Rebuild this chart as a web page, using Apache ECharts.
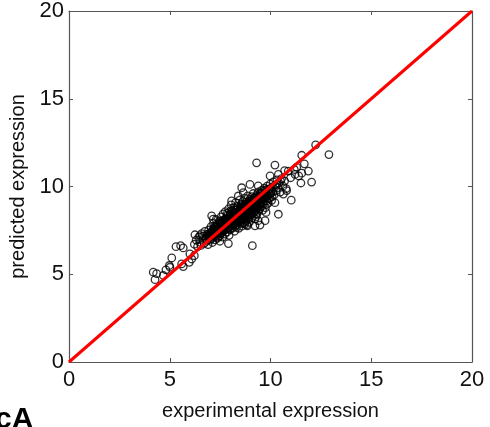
<!DOCTYPE html>
<html>
<head>
<meta charset="utf-8">
<script src="https://cdn.jsdelivr.net/npm/echarts@6/dist/echarts.min.js"></script>
<style>
html,body{margin:0;padding:0;background:#fff;}
#chart{width:490px;height:427px;}
</style>
</head>
<body>
<div id="chart"></div>
<script>
// Axis ticks
var xTicks = [0, 5, 10, 15, 20];
var yTicks = [0, 5, 10, 15, 20];
// Identity (y = x) reference line endpoints
var identityLine = [[0, 0], [20, 20]];

// Dense core of the scatter (experimental, predicted)
var corePoints = [
  [6.22,6.71],[6.31,6.95],[6.38,6.58],[6.44,7.12],[6.49,6.83],[6.55,6.64],[6.58,7.31],[6.63,6.97],[6.67,7.18],[6.71,6.76],
  [6.74,7.44],[6.79,7.05],[6.83,6.88],[6.86,7.27],[6.9,6.69],[6.93,7.52],[6.96,7.13],[6.99,6.94],
  [7.02,7.36],[7.05,7.71],[7.07,7.02],[7.1,7.24],[7.12,6.81],[7.15,7.55],[7.17,7.9],[7.2,7.13],[7.22,7.38],[7.25,6.96],
  [7.27,7.67],[7.3,8.12],[7.32,7.27],[7.34,7.49],[7.37,7.06],[7.39,7.82],[7.41,7.61],[7.44,7.33],[7.46,8.02],[7.48,7.18],[7.49,6.88],
  [7.51,7.52],[7.53,7.77],[7.55,8.27],[7.57,7.36],[7.59,7.95],[7.61,7.63],[7.63,7.12],[7.65,8.44],[7.67,7.84],[7.69,7.48],
  [7.71,8.09],[7.72,7.71],[7.74,7.29],[7.76,8.57],[7.78,7.93],[7.8,7.59],[7.82,8.21],[7.83,7.82],[7.85,7.41],[7.87,8.35],
  [7.88,8.03],[7.9,7.67],[7.92,8.72],[7.93,7.9],[7.95,7.22],[7.97,8.16],[7.98,7.78],
  [8.0,8.42],[8.02,8.01],[8.03,7.56],[8.05,8.95],[8.07,8.24],[8.08,7.87],[8.1,8.61],[8.12,8.1],[8.13,7.66],[8.15,8.38],
  [8.17,7.97],[8.18,8.79],[8.2,8.2],[8.22,7.45],[8.23,8.51],[8.25,8.05],[8.27,9.08],[8.28,8.31],[8.3,7.8],[8.32,8.68],
  [8.33,8.14],[8.35,8.44],[8.37,7.92],[8.38,8.88],[8.4,8.27],[8.42,7.62],[8.43,8.56],[8.45,8.12],[8.47,9.23],[8.48,8.37],[8.5,7.98],
  [8.52,8.71],[8.53,8.22],[8.55,8.99],[8.57,8.47],[8.58,7.74],[8.6,8.62],[8.62,8.09],[8.63,9.15],[8.65,8.36],[8.67,8.81],
  [8.68,7.93],[8.7,8.55],[8.72,9.34],[8.73,8.24],[8.75,8.73],[8.77,8.02],[8.78,9.02],[8.8,8.46],[8.82,7.81],[8.83,8.89],
  [8.85,8.31],[8.87,9.47],[8.88,8.64],[8.9,8.12],[8.92,9.11],[8.93,8.5],[8.95,7.96],[8.97,8.83],[8.98,9.28],
  [9.0,8.38],[9.02,8.97],[9.04,8.65],[9.06,9.42],[9.08,8.21],[9.1,9.07],[9.12,8.76],[9.14,9.6],[9.16,8.49],[9.18,9.21],
  [9.2,8.88],[9.22,8.15],[9.24,9.35],[9.26,8.62],[9.28,9.02],[9.3,8.41],[9.32,9.54],[9.34,8.81],[9.36,9.18],[9.38,8.58],
  [9.4,9.69],[9.42,8.97],[9.44,9.31],[9.46,8.72],[9.48,9.1],
  [9.5,9.47],[9.53,8.86],[9.56,9.78],[9.58,9.23],[9.61,8.64],[9.64,9.58],[9.66,9.02],[9.69,9.91],[9.72,9.36],[9.75,8.79],
  [9.78,9.7],[9.8,9.18],[9.83,10.02],[9.86,9.47],[9.89,9.05],[9.92,9.84],[9.95,9.32],[9.98,10.13],
  [10.02,9.62],[10.06,9.21],[10.1,9.97],[10.14,10.26],[10.18,9.52],[10.22,10.08],[10.27,9.76],[10.32,10.38],[10.37,9.94],
  [10.42,10.19],[10.48,9.68],[10.55,10.45],[10.62,10.02],[10.7,10.31],[10.78,9.88],
  [7.58,8.06],[7.62,7.45],[7.7,7.96],[7.75,8.15],[7.81,7.74],[7.86,8.48],[7.91,8.11],[7.96,7.54],[8.01,8.3],[8.04,8.62],
  [8.09,7.99],[8.14,8.48],[8.19,8.08],[8.21,8.66],[8.26,7.73],[8.29,8.4],[8.34,8.02],[8.36,8.8],[8.41,8.45],[8.44,8.02],
  [8.46,8.66],[8.51,8.35],[8.54,8.84],[8.56,7.9],[8.59,8.52],[8.64,8.98],[8.66,8.18],[8.69,8.67],[8.74,8.4],[8.76,9.1],
  [8.79,8.13],[8.81,8.62],[8.84,8.99],[8.86,8.4],[8.91,8.73],[8.94,9.18],[8.96,8.27],[9.01,8.57],[9.05,9.16],[9.09,8.45],
  [9.13,8.98],[9.17,8.66],[9.21,9.27],[9.25,8.85],[9.29,8.28],[9.33,9.11],[9.37,8.75],[9.41,9.4],[9.45,8.9],[9.49,9.6],
  [7.28,7.52],[7.35,7.88],[7.42,7.15],[7.47,7.66],[7.13,7.45],[7.06,7.2],[6.97,7.35],[6.81,7.1],[7.23,7.74],[7.54,7.32],
  // tightly packed centre of the band
  [6.88,7.16],[6.95,7.22],[7.01,7.18],[7.04,7.31],[7.09,7.27],[7.14,7.35],[7.18,7.29],[7.21,7.44],[7.26,7.41],[7.29,7.36],
  [7.33,7.58],[7.36,7.47],[7.4,7.52],[7.43,7.63],[7.45,7.44],[7.5,7.69],[7.52,7.6],[7.56,7.55],[7.6,7.74],[7.64,7.68],
  [7.66,7.79],[7.68,7.62],[7.73,7.86],[7.77,7.77],[7.79,7.88],[7.84,7.96],[7.86,7.85],[7.89,7.99],[7.94,8.04],[7.99,7.95],
  [8.03,8.12],[8.06,8.06],[8.11,8.2],[8.16,8.15],[8.19,8.27],[8.24,8.22],[8.27,8.35],[8.31,8.26],[8.34,8.33],[8.39,8.4],
  [8.42,8.32],[8.46,8.45],[8.49,8.52],[8.53,8.43],[8.56,8.58],[8.61,8.5],[8.64,8.61],[8.67,8.56],[8.71,8.7],[8.74,8.62],
  [8.78,8.78],[8.81,8.71],[8.84,8.84],[8.89,8.77],[8.93,8.91],[8.96,8.82],[9.0,8.95],[9.03,8.86],[9.07,9.0],[9.11,8.92],
  [9.15,9.08],[9.19,9.0],[9.23,9.12],[9.27,9.06],[9.31,9.2],[9.35,9.12],[9.39,9.26],[9.43,9.17],[9.47,9.32],[9.52,9.25],
  [9.57,9.38],[9.62,9.3],[9.67,9.45],[9.73,9.4],[9.79,9.55],[9.85,9.5],[9.91,9.62],[9.97,9.56],[10.04,9.74],[10.12,9.7],
  [7.08,7.1],[7.19,7.62],[7.31,7.7],[7.38,7.3],[7.52,7.92],[7.57,7.48],[7.68,8.02],[7.72,7.53],[7.84,8.12],[7.89,7.6],
  [7.99,8.2],[8.04,7.78],[8.12,8.32],[8.16,7.84],[8.26,8.48],[8.31,7.96],[8.4,8.6],[8.43,8.06],[8.52,8.78],[8.57,8.2],
  [8.63,8.86],[8.69,8.33],[8.77,8.95],[8.83,8.5],[8.9,9.04],[8.97,8.6],[9.06,9.22],[9.11,8.68],[9.19,9.36],[9.27,8.85],
  [9.34,9.45],[9.43,9.0],[9.55,9.6],[9.63,9.13],[9.74,9.78],[9.84,9.3],[9.96,9.88],[10.08,9.42]
];

// Sparser points around the core
var outerPoints = [
  [9.31,11.35],[10.22,11.22],[12.24,12.37],[12.9,11.82],[11.55,11.78],[11.68,11.29],[11.88,10.88],[11.55,10.76],
  [12.04,10.25],[11.51,10.2],[11.03,9.22],[10.8,9.77],[10.64,9.57],[10.31,10.12],[9.98,10.6],[10.39,10.69],
  [10.88,10.88],[11.18,10.97],[11.22,10.69],[11.0,10.5],[11.3,11.1],[11.4,10.6],[10.7,10.9],[10.5,10.3],
  [8.98,10.12],[8.65,9.65],[8.57,9.93],[8.4,9.46],[8.07,9.18],[9.39,10.03],[9.81,9.84],[9.56,9.46],[10.22,9.08],
  [9.31,8.42],[9.78,8.52],[9.81,8.99],[9.48,7.8],[8.85,7.76],[9.39,8.05],[9.73,8.05],[10.39,8.42],[9.23,7.76],[8.73,7.86],
  [9.1,6.63],[8.32,7.67],[7.91,6.75],[7.08,8.33],[7.16,8.14],[6.25,7.25],[6.5,7.2],
  [5.31,6.57],[5.54,6.63],[5.67,6.5],[5.1,5.93],[6.0,6.16],[6.09,5.87],[6.22,6.06],[5.97,5.68],[5.59,5.59],[5.67,5.44],
  [5.01,5.4],[4.98,5.5],[4.81,5.25],[4.18,5.12],[4.35,5.03],[4.27,4.69],[4.68,4.93]
];

var scatterData = corePoints.concat(outerPoints);

var FONT = '"Liberation Sans", Arial, Helvetica, sans-serif';
var AXIS_COLOR = '#555';

var chart = echarts.init(document.getElementById('chart'), null, {renderer: 'canvas'});

function mainAxis(extra) {
  return Object.assign({
    type: 'value',
    min: xTicks[0],
    max: xTicks[xTicks.length - 1],
    interval: xTicks[1] - xTicks[0],
    splitLine: {show: false},
    axisLine: {show: true, onZero: false, lineStyle: {color: AXIS_COLOR, width: 1.2}},
    axisTick: {show: true, inside: true, length: 4, lineStyle: {color: AXIS_COLOR, width: 1}},
    axisLabel: {show: true, fontSize: 22, color: '#111', fontFamily: FONT}
  }, extra);
}

chart.setOption({
  animation: false,
  backgroundColor: '#fff',
  grid: {left: 69, right: 18, top: 9, bottom: 65, containLabel: false},
  xAxis: [
    mainAxis({position: 'bottom',
      axisLabel: {show: true, fontSize: 22, color: '#111', fontFamily: FONT, margin: 7},
      name: 'experimental expression', nameLocation: 'middle', nameGap: 39,
      nameTextStyle: {fontSize: 20, color: '#111', fontFamily: FONT}}),
    mainAxis({position: 'top', axisLabel: {show: false}})
  ],
  yAxis: [
    mainAxis({position: 'left', min: yTicks[0], max: yTicks[yTicks.length - 1], interval: yTicks[1] - yTicks[0],
      axisLabel: {show: true, fontSize: 22, color: '#111', fontFamily: FONT, margin: 5},
      name: 'predicted expression', nameLocation: 'middle', nameGap: 38,
      nameTextStyle: {fontSize: 20, color: '#111', fontFamily: FONT}}),
    mainAxis({position: 'right', min: yTicks[0], max: yTicks[yTicks.length - 1], interval: yTicks[1] - yTicks[0],
      axisLabel: {show: false}})
  ],
  series: [
    {
      type: 'scatter',
      xAxisIndex: 0, yAxisIndex: 0,
      data: scatterData,
      symbol: 'circle',
      symbolSize: 7.5,
      itemStyle: {color: 'rgba(255,255,255,0)', borderColor: '#000', borderWidth: 1.3},
      z: 2,
      silent: true
    },
    {
      type: 'line',
      xAxisIndex: 0, yAxisIndex: 0,
      data: identityLine,
      symbol: 'none',
      lineStyle: {color: '#ff0000', width: 3},
      z: 5,
      silent: true
    }
  ],
  graphic: [
    {
      type: 'text',
      left: -5,
      top: 405,
      style: {text: 'cA', font: 'bold 30px ' + FONT, fill: '#000'}
    }
  ]
});
</script>
</body>
</html>
